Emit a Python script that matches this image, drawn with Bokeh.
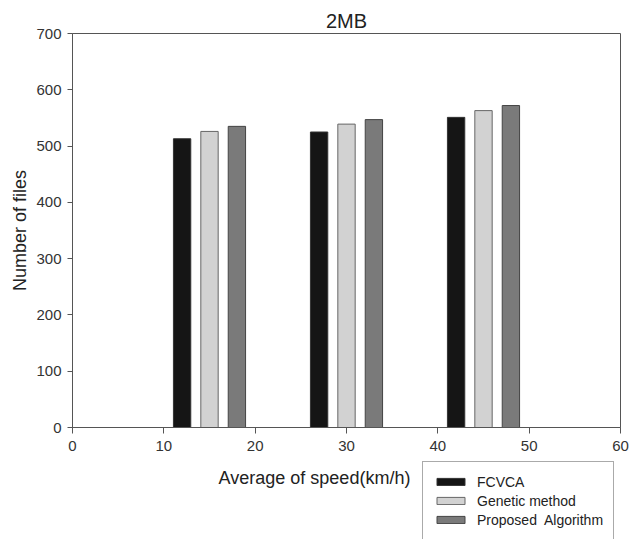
from bokeh.plotting import figure
from bokeh.models import ColumnDataSource, Legend, LegendItem, Label, FixedTicker, Range1d
from bokeh.layouts import column
from bokeh.transform import dodge
from bokeh.embed import file_html
from bokeh.resources import INLINE

# Data
speeds = [15, 30, 45]
fcvca = [513, 525, 551]
genetic = [526, 539, 563]
proposed = [535, 547, 572]
series_names = ["FCVCA", "Genetic method", "Proposed  Algorithm"]
x_ticks = [0, 10, 20, 30, 40, 50, 60]
y_ticks = [0, 100, 200, 300, 400, 500, 600, 700]

FONT = "Liberation Sans"
colors = ["#151515", "#d2d2d2", "#7a7a7a"]
outlines = ["#333333", "#666666", "#444444"]
cols = ["fcvca", "genetic", "proposed"]

src = ColumnDataSource(dict(speed=speeds, fcvca=fcvca, genetic=genetic, proposed=proposed))

p = figure(width=640, height=460, output_backend="svg", toolbar_location=None,
           x_range=Range1d(0, 60), y_range=Range1d(0, 700),
           min_border_left=72, min_border_right=20, min_border_top=33, min_border_bottom=33)

p.title.text = "2MB"
p.title.align = "center"
p.title.text_font = FONT
p.title.text_font_size = "20px"
p.title.text_font_style = "normal"
p.title.text_color = "#222222"
p.title.standoff = 4

p.grid.visible = False
p.outline_line_color = "#555555"
p.outline_line_width = 1
p.background_fill_color = "white"
p.border_fill_color = "white"

for ax in (p.xaxis[0], p.yaxis[0]):
    ax.axis_line_color = "#555555"
    ax.major_tick_line_color = "#555555"
    ax.minor_tick_line_color = None
    ax.major_tick_in = 0
    ax.major_label_text_font = FONT
    ax.major_label_text_font_size = "15px"
    ax.major_label_text_color = "#333333"
    ax.axis_label_text_font = FONT
    ax.axis_label_text_font_size = "18px"
    ax.axis_label_text_font_style = "normal"
    ax.axis_label_text_color = "#222222"

p.xaxis.ticker = FixedTicker(ticks=x_ticks)
p.yaxis.ticker = FixedTicker(ticks=y_ticks)
p.xaxis.major_tick_out = 6
p.yaxis.major_tick_out = 5
p.xaxis.major_label_standoff = 7
p.yaxis.major_label_standoff = 6
p.yaxis.axis_label = "Number of files"
p.yaxis.axis_label_standoff = 3

w = 1.9
offsets = [-3, 0, 3]
for c, off, fc, lc in zip(cols, offsets, colors, outlines):
    p.vbar(x=dodge("speed", off, range=p.x_range), top=c, width=w, bottom=0, source=src,
           fill_color=fc, line_color=lc, line_width=1)

# Lower strip: x-axis title and legend (legend cut at the bottom edge as in the reference)
p2 = figure(width=640, height=79, output_backend="svg", toolbar_location=None,
            x_range=Range1d(72, 620), y_range=Range1d(79, 0),
            x_axis_location=None, y_axis_location=None,
            min_border_left=72, min_border_right=20, min_border_top=0, min_border_bottom=0)
p2.grid.visible = False
p2.outline_line_color = None
p2.background_fill_color = "white"
p2.border_fill_color = "white"

xlabel = Label(x=314, y=17, text="Average of speed(km/h)",
               text_font=FONT, text_font_size="18px", text_color="#222222",
               text_align="center", text_baseline="middle")
p2.add_layout(xlabel)

# legend proxies: same data as zero-height bars, lying outside this strip's visible range
items = []
for name, c, fc, lc in zip(series_names, cols, colors, outlines):
    r = p2.vbar(x="speed", top=c, bottom=c, width=1, source=src,
                fill_color=fc, line_color=lc, line_width=1)
    items.append(LegendItem(label=name, renderers=[r]))

legend = Legend(items=items, location=(350, -1), orientation="vertical",
                glyph_width=35, glyph_height=9, label_height=19, spacing=0,
                padding=10, margin=0, label_standoff=9,
                label_text_font=FONT, label_text_font_size="14px", label_text_color="#222222",
                border_line_color="#555555", border_line_width=1,
                background_fill_color="white", background_fill_alpha=1)
p2.add_layout(legend, "center")

layout = column(p, p2, spacing=0)
open("out.html", "w").write(file_html(layout, INLINE))
